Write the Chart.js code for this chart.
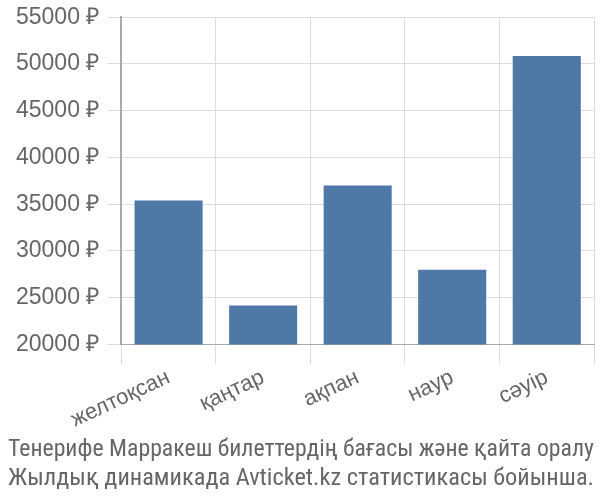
<!DOCTYPE html>
<html>
<head>
<meta charset="utf-8">
<script src="https://cdn.jsdelivr.net/npm/chart.js@4"></script>
<style>
  html, body { margin: 0; padding: 0; background: #fff; }
  #wrap { width: 600px; height: 500px; }
</style>
</head>
<body>
<div id="wrap"><canvas id="myChart"></canvas></div>
<script>
// data
const months = ["желтоқсан", "қаңтар", "ақпан", "наур", "сәуір"];
const prices = [35400, 24150, 37000, 28000, 50850];
const yTicks = [20000, 25000, 30000, 35000, 40000, 45000, 50000, 55000];
const titleLines = [
    "Тенерифе Марракеш билеттердің бағасы және қайта оралу",
    "Жылдық динамикада Avticket.kz статистикасы бойынша."
];

var canvas = document.getElementById("myChart");
var myChart = new Chart(canvas, {
    type: 'bar',
    data: {
        labels: months,
        datasets: [{
            data: prices,
            backgroundColor: '#4e79a7',
            borderWidth: 0
        }]
    },
    options: {
        responsive: true,
        maintainAspectRatio: false,
        animation: false,
        layout: { padding: { left: 8, right: 6, top: 0, bottom: 0 } },
        plugins: {
            legend: { display: false },
            tooltip: { enabled: false },
            title: {
                display: true,
                position: 'bottom',
                text: titleLines,
                color: '#666',
                font: { family: "'Roboto Condensed', 'Liberation Sans', sans-serif", size: 24.5, weight: 'normal' },
                padding: { top: 2, bottom: 6 },
                lineHeight: 1.12
            }
        },
        scales: {
            x: {
                grid: { offset: true, color: '#ddd', tickLength: 20 },
                border: { color: '#aaa' },
                ticks: {
                    color: '#666',
                    minRotation: 25, maxRotation: 25,
                    padding: 0,
                    font: { family: "'Liberation Sans', sans-serif", size: 22 }
                }
            },
            y: {
                min: 20000, max: 55000,
                afterBuildTicks: (axis) => { axis.ticks = yTicks.map(v => ({ value: v })) },
                grid: { color: '#ddd', tickLength: 14 },
                border: { color: '#aaa', width: 2 },
                ticks: {
                    color: '#666',
                    padding: 8,
                    font: { family: "'Liberation Sans', sans-serif", size: 23, lineHeight: 0.8 },
                    callback: (v) => v + ' ₽'
                }
            }
        }
    }
});
</script>
</body>
</html>
